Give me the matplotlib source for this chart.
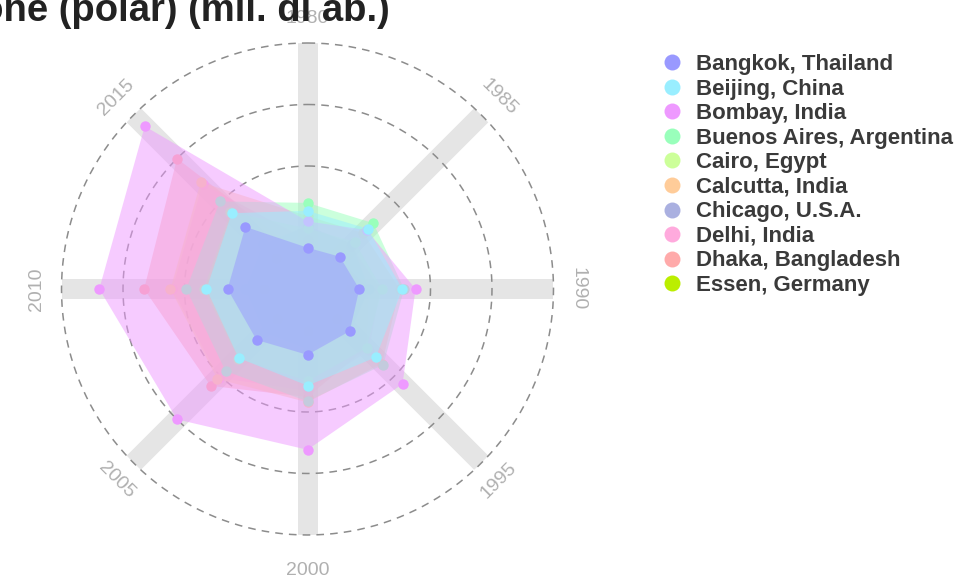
import numpy as np
import matplotlib
matplotlib.use("Agg")
import matplotlib.pyplot as plt
from matplotlib.lines import Line2D

plt.rcParams['font.family'] = ['Liberation Sans', 'DejaVu Sans']

# years on the spokes (clockwise from top)
years = ["1980", "1985", "1990", "1995", "2000", "2005", "2010", "2015"]

cities = ["Bangkok, Thailand", "Beijing, China", "Bombay, India",
          "Buenos Aires, Argentina", "Cairo, Egypt", "Calcutta, India",
          "Chicago, U.S.A.", "Delhi, India", "Dhaka, Bangladesh", "Essen, Germany"]

colors = ["#9999ff", "#99eeff", "#ee99ff", "#99ffbb", "#ccff99",
          "#ffcc99", "#aab0e0", "#ffaadd", "#ffaaaa", "#bbee00"]

# population, millions
bangkok = [4.7, 5.2, 5.9, 6.8, 7.5, 8.2, 9.1, 10.0]
beijing = [8.9, 9.7, 10.8, 11.0, 11.0, 11.1, 11.5, 12.2]
bombay = [7.7, 9.5, 12.3, 15.3, 18.3, 21.0, 23.7, 26.2]
buenos_aires = [9.8, 10.6, 11.0, 12.2, 12.8, 13.2, 13.8, 14.1]
cairo = [6.9, 7.6, 8.5, 9.5, 10.5, 11.2, 11.8, 12.4]
calcutta = [8.3, 9.0, 10.5, 12.0, 12.9, 14.5, 15.6, 17.2]
chicago = [7.2, 7.2, 7.0, 6.9, 6.9, 7.0, 7.1, 7.2]
delhi = [5.6, 7.0, 8.3, 9.9, 11.6, 14.3, 15.4, 16.9]
dhaka = [3.5, 5.0, 7.0, 9.5, 12.3, 15.6, 18.6, 21.0]
essen = [5.0, 4.9, 4.8, 4.8, 4.8, 4.9, 5.0, 5.0]

series = [bangkok, beijing, bombay, buenos_aires, cairo,
          calcutta, chicago, delhi, dhaka, essen]

rmax = 28
theta = np.arange(len(years)) * 2 * np.pi / len(years)

fig = plt.figure(figsize=(9.79, 5.81), dpi=100)
ax = fig.add_axes([0.0628, 0.0792, 0.5026, 0.8468], projection="polar")
ax.set_theta_zero_location("N")
ax.set_theta_direction(-1)
ax.set_ylim(0, rmax)
ax.set_xticks([])
ax.set_yticks([])
ax.spines["polar"].set_visible(False)
ax.grid(False)

# gray spokes
for t in theta:
    ax.plot([t, t], [0, rmax], color="#e5e5e5", lw=14.4,
            solid_capstyle="butt", zorder=1)

# dashed rings
circ = np.linspace(0, 2 * np.pi, 361)
for r in [14, 21, 28]:
    ax.plot(circ, np.full_like(circ, r), color="#8c8c8c", lw=1.1,
            ls=(0, (5, 4)), zorder=2, clip_on=False)

# draw last city first so Bangkok ends on top
z = 3
for vals, col in reversed(list(zip(series, colors))):
    tt = np.append(theta, theta[0])
    vv = np.append(vals, vals[0])
    ax.fill(tt, vv, color=col, alpha=0.5, lw=0, zorder=z)
    ax.plot(theta, vals, "o", color=col, ms=7.5, mec="none", zorder=z + 0.5)
    z += 1

# spoke labels, written along the tangent
for t, lab in zip(theta, years):
    rot = (-np.degrees(t) + 180) % 360 - 180
    if rot > 90:
        rot -= 180
    if rot < -90:
        rot += 180
    r_lab = 32.0 if lab == "2000" else 30.8
    ax.text(t, r_lab, lab, rotation=rot, ha="center", va="center",
            color="#b0b0b0", fontsize=14, rotation_mode="anchor",
            clip_on=False)

handles = [Line2D([], [], ls="none", marker="o", ms=11.5, color=c, mec="none")
           for c in colors]
fig.legend(handles, cities, loc="upper left", bbox_to_anchor=(0.675, 0.907),
           frameon=False, handlelength=1.0, handletextpad=0.6,
           labelspacing=0.16, borderpad=0, borderaxespad=0,
           prop={"size": 16, "weight": "bold"}, labelcolor="#3a3a3a")

fig.text(390 / 979, 1 - 21 / 581, "Popolazione (polar) (mil. di ab.)",
         ha="right", va="baseline", fontsize=27.5, weight="bold", color="#222222")

fig.savefig("out.png", dpi=100)
